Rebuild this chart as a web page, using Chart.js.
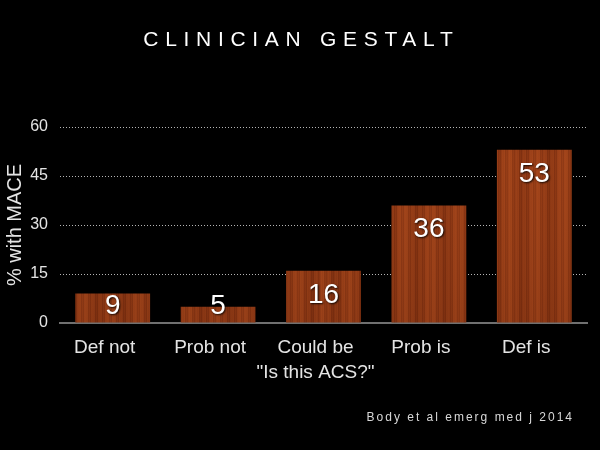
<!DOCTYPE html>
<html>
<head>
<meta charset="utf-8">
<script src="https://cdn.jsdelivr.net/npm/chart.js@4"></script>
<style>
html,body{margin:0;padding:0;background:#000;}
#wrap{width:600px;height:450px;position:relative;}
</style>
</head>
<body>
<div id="wrap"><canvas id="c" width="600" height="450"></canvas></div>
<script>
const categories = ["Def not", "Prob not", ["Could be", "\"Is this ACS?\""], "Prob is", "Def is"];
const valuesMACE = [9, 5, 16, 36, 53];
const yTicks = [0, 15, 30, 45, 60];
const chartTitle = "CLINICIAN GESTALT";
const yTitle = "% with MACE";
const sourceNote = "Body et al emerg med j 2014";

// deterministic wood-grain pattern
function woodPattern() {
  const p = document.createElement('canvas');
  p.width = 160; p.height = 450;
  const g = p.getContext('2d');
  g.fillStyle = '#8a3510';
  g.fillRect(0, 0, p.width, p.height);
  for (let x = 0; x < p.width; x++) {
    const v = Math.sin(x * 0.9) * 0.45 + Math.sin(x * 0.23 + 1.3) * 0.4 + Math.sin(x * 2.7) * 0.3;
    const r = Math.round(140 + v * 24), gg = Math.round(55 + v * 14), b = Math.round(20 + v * 7);
    g.fillStyle = `rgb(${r},${gg},${b})`;
    g.fillRect(x, 0, 1, p.height);
  }
  const grd = g.createLinearGradient(0, 0, 0, p.height);
  grd.addColorStop(0, 'rgba(0,0,0,0)');
  grd.addColorStop(0.35, 'rgba(210,100,40,0.10)');
  grd.addColorStop(1, 'rgba(40,10,0,0.22)');
  g.fillStyle = grd;
  g.fillRect(0, 0, p.width, p.height);
  return g.createPattern(p, 'repeat');
}

const decor = {
  id: 'decor',
  afterDatasetsDraw(chart) {
    const ctx = chart.ctx;
    const meta = chart.getDatasetMeta(0);
    ctx.save();
    ctx.font = '28px "Liberation Sans", Arial, sans-serif';
    ctx.textAlign = 'center';
    ctx.textBaseline = 'alphabetic';
    ctx.fillStyle = '#ffffff';
    ctx.shadowColor = 'rgba(0,0,0,0.85)';
    ctx.shadowBlur = 2;
    ctx.shadowOffsetX = 1;
    ctx.shadowOffsetY = 1;
    meta.data.forEach((bar, i) => {
      const y = Math.min(bar.y + 32, chart.chartArea.bottom - 9);
      ctx.fillText(String(valuesMACE[i]), bar.x, y);
    });
    ctx.restore();
  },
  afterDraw(chart) {
    const ctx = chart.ctx;
    ctx.save();
    ctx.fillStyle = '#ffffff';
    ctx.textBaseline = 'middle';
    ctx.textAlign = 'left';
    ctx.font = '21px "Liberation Sans", Arial, sans-serif';
    ctx.letterSpacing = '6.7px';
    let w = ctx.measureText(chartTitle).width - 6.7;
    ctx.fillText(chartTitle, 298 - w / 2, 40);
    ctx.fillStyle = '#d8d8d8';
    ctx.font = '12px "Liberation Sans", Arial, sans-serif';
    ctx.letterSpacing = '2px';
    w = ctx.measureText(sourceNote).width - 2;
    ctx.fillText(sourceNote, 572 - w, 418);
    ctx.restore();
  }
};

const ctx = document.getElementById('c').getContext('2d');
new Chart(ctx, {
  type: 'bar',
  data: {
    labels: categories,
    datasets: [{
      data: valuesMACE,
      backgroundColor: woodPattern(),
      borderWidth: 0,
      categoryPercentage: 1,
      barPercentage: 0.71
    }]
  },
  options: {
    responsive: false,
    animation: false,
    devicePixelRatio: 1,
    layout: { padding: { top: 127, right: 13, bottom: 0, left: 0 } },
    plugins: { legend: { display: false }, tooltip: { enabled: false }, title: { display: false } },
    scales: {
      x: {
        grid: { display: false, drawTicks: false },
        border: { display: true, color: '#707070', width: 2 },
        ticks: {
          color: '#e4e4e4',
          font: { family: '"Liberation Sans", Arial, sans-serif', size: 19, lineHeight: 1.32 },
          padding: 12,
          labelOffset: -8,
          maxRotation: 0,
          autoSkip: false
        },
        afterFit(scale) { scale.height = 127; }
      },
      y: {
        min: 0, max: 60,
        afterBuildTicks(scale) { scale.ticks = yTicks.map(v => ({ value: v })); },
        grid: {
          color: 'rgba(200,200,200,0.9)',
          lineWidth: 1,
          drawTicks: false
        },
        border: { display: false, dash: [1, 2] },
        ticks: {
          color: '#e4e4e4',
          font: { family: '"Liberation Sans", Arial, sans-serif', size: 16 },
          padding: 12
        },
        title: {
          display: true,
          text: yTitle,
          color: '#e4e4e4',
          font: { family: '"Liberation Sans", Arial, sans-serif', size: 20 },
          padding: { top: 3, bottom: 0 }
        },
        afterFit(scale) { scale.width = 60; }
      }
    }
  },
  plugins: [decor]
});
</script>
</body>
</html>
